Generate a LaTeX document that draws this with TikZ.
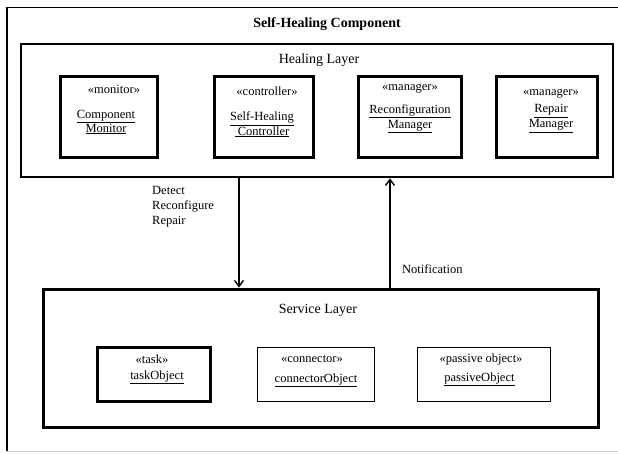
\documentclass[tikz,border=0pt]{standalone}
\usepackage{fontspec}
\setmainfont{Liberation Serif}
\usetikzlibrary{arrows.meta}
\newcommand{\objname}[1]{\underline{#1}}
\begin{document}
\begin{tikzpicture}[x=1pt,y=-1pt,
  heavybox/.style={draw, line width=3pt, inner sep=0pt},
  lightbox/.style={draw, line width=0.9pt, inner sep=0pt},
  layerbox/.style={draw, line width=2.6pt, inner sep=0pt},
  txt/.style={font=\fontsize{12.5}{14.5}\selectfont, inner sep=0pt, align=center},
  bigtxt/.style={font=\fontsize{14}{16}\selectfont, inner sep=0pt},
  msg/.style={font=\fontsize{12.5}{15}\selectfont, inner sep=0pt, align=left, anchor=west},
  flow/.style={line width=1.8pt, -{Straight Barb[length=6pt,width=9pt,line width=1.4pt]}}]
\useasboundingbox (0,0) rectangle (618,453);
\fill[white] (0,0) rectangle (618,453);
\clip (0,0) rectangle (618,453);

% enclosing component frame
\draw[line width=1.8pt] (7,451) -- (7,7.5) -- (630,7.5);
\draw[line width=1pt, black!22] (7,451.5) -- (630,451.5);
\node[bigtxt, font=\fontsize{14}{16}\selectfont\bfseries] (title) at (327,24) {Self-Healing Component};

% healing layer
\node[layerbox, minimum width=592pt, minimum height=133pt] (hl) at (317,110.5) {};
\node[bigtxt] (hltitle) at (319,60) {Healing Layer};

\node[heavybox, minimum width=97pt, minimum height=81pt] (cm) at (108.5,116.5) {};
\node[heavybox, minimum width=99pt, minimum height=81pt] (shc) at (263.5,116.5) {};
\node[heavybox, minimum width=103pt, minimum height=81pt] (rm) at (409.5,116.5) {};
\node[heavybox, minimum width=101pt, minimum height=81pt] (rpm) at (546.5,116.5) {};

\node[txt] (cmst) at (114,89) {«monitor»};
\node[txt, font=\fontsize{12.5}{12.5}\selectfont] (cmname) at (106,122) {\objname{Component}\\\objname{Monitor}};
\node[txt] (shcst) at (267,91) {«controller»};
\node[txt, font=\fontsize{12.5}{13}\selectfont] (shcname) at (262,124.5) {\objname{Self-Healing}\\\objname{ Controller}};
\node[txt] (rmst) at (410,89) {«manager»};
\node[txt, font=\fontsize{12.5}{15}\selectfont] (rmname) at (410,118.5) {\objname{Reconfiguration}\\\objname{Manager}};
\node[txt] (rpmst) at (551,94) {«manager»};
\node[txt, font=\fontsize{12.5}{15}\selectfont] (rpmname) at (551,118.5) {\objname{Repair}\\\objname{Manager}};

% service layer
\node[heavybox, minimum width=555pt, minimum height=138pt] (sl) at (320.5,358) {};
\node[bigtxt] (sltitle) at (318,310) {Service Layer};

\node[heavybox, minimum width=113pt, minimum height=54pt] (task) at (153.5,374) {};
\node[lightbox, minimum width=117pt, minimum height=54pt] (conn) at (315.5,374) {};
\node[lightbox, minimum width=133pt, minimum height=54pt] (pass) at (483.5,374) {};

\node[txt] (taskst) at (152,359) {«task»};
\node[txt] (taskname) at (157,377) {\objname{taskObject}};
\node[txt] (connst) at (312,359) {«connector»};
\node[txt] (connname) at (316,380) {\objname{connectorObject}};
\node[txt] (passst) at (481,359) {«passive object»};
\node[txt] (passname) at (479.5,379) {\objname{passiveObject}};

% interactions between the layers
\coordinate (down) at (239,0);
\coordinate (up) at (390,0);
\draw[flow] (hl.south -| down) -- (sl.north -| down);
\draw[flow] (sl.north -| up) -- (hl.south -| up);
\node[msg] (cmds) at (152,207) {Detect\\Reconfigure\\Repair};
\node[msg] (note) at (402,269) {Notification};
\end{tikzpicture}
\end{document}
